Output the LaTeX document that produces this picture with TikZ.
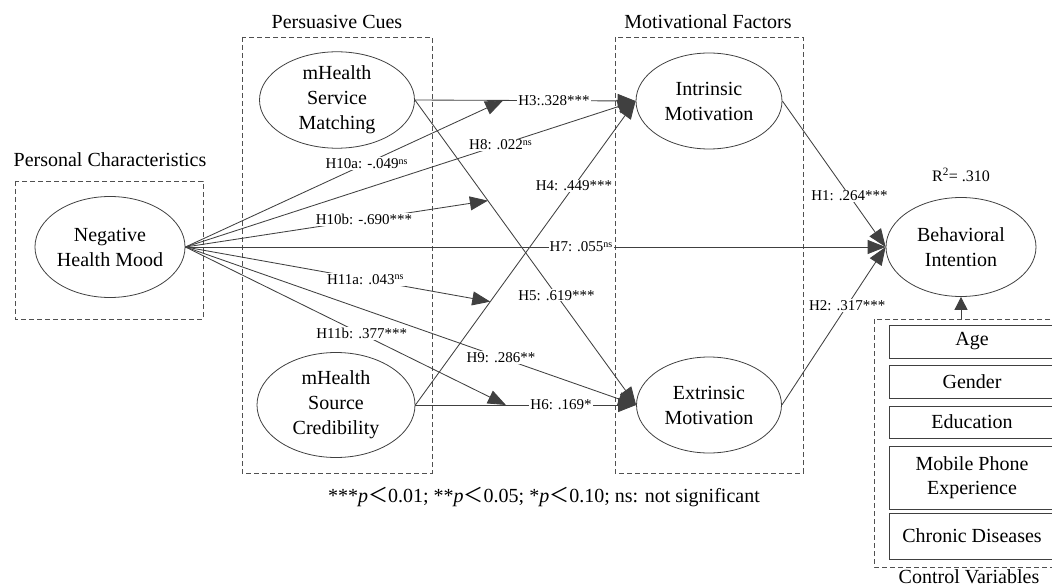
\documentclass[tikz,border=0pt]{standalone}
\usepackage{fontspec}
\setmainfont{Liberation Serif}
\newfontfamily\cjk{Noto Sans CJK SC}
\usetikzlibrary{shapes.geometric,arrows.meta}
\definecolor{linegray}{HTML}{404040}
\definecolor{boxgray}{HTML}{505050}
\newcommand\mysup[1]{\raisebox{0.6ex}{\fontsize{10}{10}\selectfont #1}}
\newcommand\mylt{{\cjk ＜}}
\begin{document}
\begin{tikzpicture}[x=1pt,y=-1pt,
  grp/.style={draw=boxgray,line width=0.7pt,dash pattern=on 5pt off 3pt},
  ttl/.style={font=\fontsize{20}{24}\selectfont,inner sep=0pt},
  ell/.style={ellipse,draw=linegray,line width=0.8pt,inner sep=0pt,align=center,font=\fontsize{20}{25}\selectfont},
  con/.style={draw=linegray,line width=0.85pt},
  arr/.style={con,-{Triangle[length=18pt,width=14pt]}},
  lbl/.style={fill=white,inner sep=1.2pt,font=\fontsize{15}{17}\selectfont},
  cvb/.style={draw=linegray,line width=0.8pt,minimum width=166pt,inner sep=0pt,align=center,font=\fontsize{20}{24}\selectfont}]
\clip (0,0) rectangle (1052,588);

% group boxes
\draw[grp] (15,181) rectangle (203,319);
\draw[grp] (242,37) rectangle (432,473);
\draw[grp] (615,37) rectangle (803,473);
\draw[grp] (874,319) rectangle (1062,567);

% titles
\node[ttl] (tPC) at (110,160) {Personal Characteristics};
\node[ttl] (tPers) at (337,22) {Persuasive Cues};
\node[ttl] (tMot) at (708,22) {Motivational Factors};
\node[ttl] (tCV) at (969,577) {Control Variables};

% constructs
\node[ell,minimum width=150pt,minimum height=101pt] (neg) at (110,247) {Negative\\Health Mood};
\node[ell,minimum width=155pt,minimum height=94pt] (svc) at (337,100) {mHealth\\Service\\Matching};
\node[ell,minimum width=158pt,minimum height=105pt] (src) at (336,405) {mHealth\\Source\\Credibility};
\node[ell,minimum width=146pt,minimum height=96pt] (intr) at (709,101) {Intrinsic\\Motivation};
\node[ell,minimum width=145pt,minimum height=96pt] (ext) at (709,405) {Extrinsic\\Motivation};
\node[ell,minimum width=150pt,minimum height=99pt] (bi) at (961,247) {Behavioral\\Intention};

% control variables
\node[cvb,minimum height=33pt] (age) at (972,341.5) {Age};
\node[cvb,minimum height=33pt] (gen) at (972,381.5) {Gender};
\node[cvb,minimum height=32pt] (edu) at (972,422) {Education};
\node[cvb,minimum height=63pt] (mob) at (972,477.5) {Mobile Phone\\Experience};
\node[cvb,minimum height=46pt] (chr) at (972,536) {Chronic Diseases};
\coordinate (cvtop) at (961,319);
\draw[con,-{Triangle[length=13pt,width=13pt]}] (cvtop) -- (bi.south);

% moderation targets
\path (svc.east) -- (intr.west) coordinate[pos=0.40] (m10a);
\path (svc.east) -- (ext.west) coordinate[pos=0.33] (m10b);
\path (src.east) -- (intr.west) coordinate[pos=0.34] (m11a);
\path (src.east) -- (ext.west) coordinate[pos=0.41] (m11b);

% main paths
\draw[arr] (svc.east) -- (intr.west);
\draw[arr] (svc.east) -- (ext.west);
\draw[arr] (src.east) -- (intr.west);
\draw[arr] (src.east) -- (ext.west);
\draw[arr] (intr.east) -- (bi.west);
\draw[arr] (ext.east) -- (bi.west);
\draw[arr] (neg.east) -- (bi.west);
\draw[arr] (neg.east) -- (intr.west);
\draw[arr] (neg.east) -- (ext.west);
\draw[arr] (neg.east) -- (m10a);
\draw[arr] (neg.east) -- (m10b);
\draw[arr] (neg.east) -- (m11a);
\draw[arr] (neg.east) -- (m11b);

% labels
\path (svc.east) -- (intr.west) node[lbl,pos=0.63] (l3) {H3:.328***};
\path (neg.east) -- (m10a) node[lbl,pos=0.57] (l10a) {H10a: -.049\mysup{ns}};
\path (neg.east) -- (intr.west) node[lbl,pos=0.70] (l8) {H8: .022\mysup{ns}};
\path (neg.east) -- (m10b) node[lbl,pos=0.59] (l10b) {H10b: -.690***};
\path (neg.east) -- (bi.west) node[lbl,pos=0.565] (l7) {H7: .055\mysup{ns}};
\path (neg.east) -- (m11a) node[lbl,pos=0.59] (l11a) {H11a: .043\mysup{ns}};
\path (neg.east) -- (ext.west) node[lbl,pos=0.70] (l9) {H9: .286**};
\path (neg.east) -- (m11b) node[lbl,pos=0.55] (l11b) {H11b: .377***};
\path (src.east) -- (intr.west) node[lbl,pos=0.72] (l4) {H4: .449***};
\path (svc.east) -- (ext.west) node[lbl,pos=0.64] (l5) {H5: .619***};
\path (src.east) -- (ext.west) node[lbl,pos=0.66] (l6) {H6: .169*};
\path (intr.east) -- (bi.west) node[lbl,pos=0.65] (l1) {H1: .264***};
\path (ext.east) -- (bi.west) node[lbl,pos=0.63] (l2) {H2: .317***};

% R squared and note
\node[font=\fontsize{16}{18}\selectfont,inner sep=0pt] (r2) at (961,175) {R\textsuperscript{2}= .310};
\node[font=\fontsize{20}{24}\selectfont,inner sep=0pt] (note) at (544,497) {***\textit{p}\mylt0.01; **\textit{p}\mylt0.05; *\textit{p}\mylt0.10; ns: not significant};
\end{tikzpicture}
\end{document}
